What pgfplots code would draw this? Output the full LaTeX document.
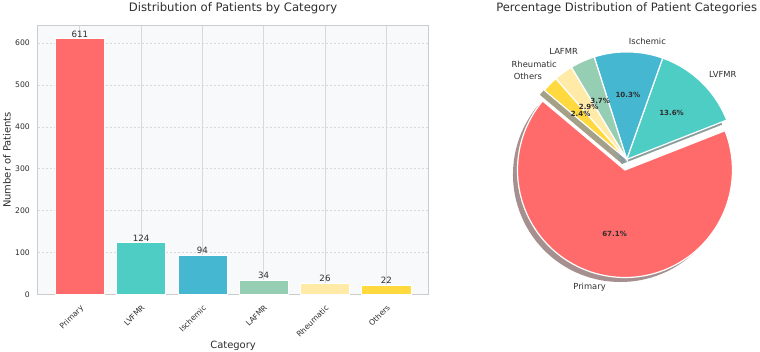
\documentclass[border=0pt]{standalone}
\usepackage{pgfplots}
\pgfplotsset{compat=1.18}
\usepackage{fontspec}
\setmainfont{DejaVu Sans}
\definecolor{cA}{HTML}{FF6B6B}
\definecolor{cB}{HTML}{4ECDC4}
\definecolor{cC}{HTML}{45B7D1}
\definecolor{cD}{HTML}{96CEB4}
\definecolor{cE}{HTML}{FFEAA7}
\definecolor{cF}{HTML}{FFD93D}
\definecolor{bgc}{HTML}{F8F9FA}
\definecolor{framec}{HTML}{CCCCCC}
\definecolor{gridc}{HTML}{D9D9DC}
\definecolor{txt}{HTML}{2E2E2E}
% data
\def\vA{611}\def\vB{124}\def\vC{94}\def\vD{34}\def\vE{26}\def\vF{22}
\pgfmathsetmacro\tot{\vA+\vB+\vC+\vD+\vE+\vF}
\pgfmathsetmacro\aA{140}
\pgfmathsetmacro\aB{\aA+360*(\vA/\tot)}
\pgfmathsetmacro\aC{\aB+360*(\vB/\tot)}
\pgfmathsetmacro\aD{\aC+360*(\vC/\tot)}
\pgfmathsetmacro\aE{\aD+360*(\vD/\tot)}
\pgfmathsetmacro\aF{\aE+360*(\vE/\tot)}
\pgfmathsetmacro\aG{\aF+360*(\vF/\tot)}
\pgfmathsetmacro\mA{(\aA+\aB)/2}
\pgfmathsetmacro\mB{(\aB+\aC)/2}
\pgfmathsetmacro\mC{(\aC+\aD)/2}
\pgfmathsetmacro\mD{(\aD+\aE)/2}
\pgfmathsetmacro\mE{(\aE+\aF)/2}
\pgfmathsetmacro\mF{(\aF+\aG)/2}
\pgfmathsetmacro\exA{0.1*cos(\mA)}
\pgfmathsetmacro\eyA{0.1*sin(\mA)}
\pgfmathsetmacro\pA{100*(\vA/\tot)}
\pgfmathsetmacro\pB{100*(\vB/\tot)}
\pgfmathsetmacro\pC{100*(\vC/\tot)}
\pgfmathsetmacro\pD{100*(\vD/\tot)}
\pgfmathsetmacro\pE{100*(\vE/\tot)}
\pgfmathsetmacro\pF{100*(\vF/\tot)}
\def\sh{0.042}
\newcommand\pct[1]{\pgfmathprintnumber[fixed,fixed zerofill,precision=1,assume math mode=true]{#1}\%}
\begin{document}
\begin{tikzpicture}
\useasboundingbox (0,0) rectangle (760bp,352bp);
\begin{axis}[
  at={(37.5bp,57.7bp)}, anchor=south west, scale only axis,
  width=391.1bp, height=268.6bp,
  xmin=-0.69, xmax=5.69, ymin=0, ymax=641.55,
  xtick={0,1,2,3,4,5},
  xticklabels={Primary,LVFMR,Ischemic,LAFMR,Rheumatic,Others},
  ytick={0,100,200,300,400,500,600},
  major tick length=0pt,
  /pgf/number format/assume math mode=true,
  axis background/.style={fill=bgc},
  axis line style={draw=framec, line width=0.8bp},
  xmajorgrids, ymajorgrids,
  major x grid style={draw=gridc, line width=0.8bp},
  major y grid style={draw=gridc, dash pattern=on 2.5bp off 1.5bp, line width=0.6bp},
  tick label style={font=\fontsize{7.7}{9}\selectfont, text=txt},
  yticklabel style={inner sep=0pt, xshift=-7.5bp},
  xticklabel style={rotate=45, anchor=north east, inner sep=0pt, xshift=-7bp, yshift=-7bp},
  nodes near coords,
  nodes near coords style={font=\fontsize{8.7}{10}\selectfont, text=txt, anchor=south, inner sep=1bp, /pgf/number format/assume math mode=true},
  title={Distribution of Patients by Category},
  every axis title/.style={at={(axis description cs:0.5,1)}, anchor=base, yshift=14bp, font=\fontsize{11.7}{13}\selectfont, text=txt},
  xlabel={Category},
  every axis x label/.style={at={(axis description cs:0.5,0)}, anchor=base, yshift=-53.7bp, font=\fontsize{10}{12}\selectfont, text=txt},
  ylabel={Number of Patients},
  every axis y label/.style={at={(axis description cs:-0.078,0.5)}, rotate=90, anchor=center, font=\fontsize{10}{12}\selectfont, text=txt},
]
\addplot[ybar, bar width=0.8, bar shift=0pt, fill=cA, draw=white, line width=0.6bp] coordinates {(0,611)};
\addplot[ybar, bar width=0.8, bar shift=0pt, fill=cB, draw=white, line width=0.6bp] coordinates {(1,124)};
\addplot[ybar, bar width=0.8, bar shift=0pt, fill=cC, draw=white, line width=0.6bp] coordinates {(2,94)};
\addplot[ybar, bar width=0.8, bar shift=0pt, fill=cD, draw=white, line width=0.6bp] coordinates {(3,34)};
\addplot[ybar, bar width=0.8, bar shift=0pt, fill=cE, draw=white, line width=0.6bp] coordinates {(4,26)};
\addplot[ybar, bar width=0.8, bar shift=0pt, fill=cF, draw=white, line width=0.6bp] coordinates {(5,22)};
\end{axis}
\begin{axis}[
  at={(497.7bp,63.6bp)}, anchor=south west, scale only axis,
  width=258bp, height=258bp,
  xmin=-1.2, xmax=1.2, ymin=-1.2, ymax=1.2,
  hide axis, clip=false,
  title={Percentage Distribution of Patient Categories},
  every axis title/.style={at={(axis description cs:0.5,1)}, anchor=base, yshift=18.7bp, font=\fontsize{11.6}{13}\selectfont, text=txt},
]
% shadows
\addplot[fill=cA!30!black, fill opacity=0.5, draw=none, domain=\aA:\aB, samples=90, variable=\t] ({\exA-\sh+cos(\t)},{\eyA-\sh+sin(\t)}) -- (axis cs:\exA-\sh,\eyA-\sh) -- cycle;
\addplot[fill=cB!30!black, fill opacity=0.5, draw=none, domain=\aB:\aC, samples=30, variable=\t] ({-\sh+cos(\t)},{-\sh+sin(\t)}) -- (axis cs:-\sh,-\sh) -- cycle;
\addplot[fill=cC!30!black, fill opacity=0.5, draw=none, domain=\aC:\aD, samples=30, variable=\t] ({-\sh+cos(\t)},{-\sh+sin(\t)}) -- (axis cs:-\sh,-\sh) -- cycle;
\addplot[fill=cD!30!black, fill opacity=0.5, draw=none, domain=\aD:\aE, samples=15, variable=\t] ({-\sh+cos(\t)},{-\sh+sin(\t)}) -- (axis cs:-\sh,-\sh) -- cycle;
\addplot[fill=cE!30!black, fill opacity=0.5, draw=none, domain=\aE:\aF, samples=15, variable=\t] ({-\sh+cos(\t)},{-\sh+sin(\t)}) -- (axis cs:-\sh,-\sh) -- cycle;
\addplot[fill=cF!30!black, fill opacity=0.5, draw=none, domain=\aF:\aG, samples=15, variable=\t] ({-\sh+cos(\t)},{-\sh+sin(\t)}) -- (axis cs:-\sh,-\sh) -- cycle;
% wedges
\addplot[fill=cA, draw=white, line width=1.2bp, line join=miter, domain=\aA:\aB, samples=90, variable=\t] ({\exA+cos(\t)},{\eyA+sin(\t)}) -- (axis cs:\exA,\eyA) -- cycle;
\addplot[fill=cB, draw=white, line width=1.2bp, line join=miter, domain=\aB:\aC, samples=30, variable=\t] ({cos(\t)},{sin(\t)}) -- (axis cs:0,0) -- cycle;
\addplot[fill=cC, draw=white, line width=1.2bp, line join=miter, domain=\aC:\aD, samples=30, variable=\t] ({cos(\t)},{sin(\t)}) -- (axis cs:0,0) -- cycle;
\addplot[fill=cD, draw=white, line width=1.2bp, line join=miter, domain=\aD:\aE, samples=15, variable=\t] ({cos(\t)},{sin(\t)}) -- (axis cs:0,0) -- cycle;
\addplot[fill=cE, draw=white, line width=1.2bp, line join=miter, domain=\aE:\aF, samples=15, variable=\t] ({cos(\t)},{sin(\t)}) -- (axis cs:0,0) -- cycle;
\addplot[fill=cF, draw=white, line width=1.2bp, line join=miter, domain=\aF:\aG, samples=15, variable=\t] ({cos(\t)},{sin(\t)}) -- (axis cs:0,0) -- cycle;
% labels
\tikzset{lab/.style={font=\fontsize{8.4}{10}\selectfont, text=txt, inner sep=0pt}, pl/.style={font=\fontsize{7.1}{8}\selectfont\bfseries, text=txt, inner sep=0pt, anchor=center}}
\node[lab, anchor=east] at (axis cs:{\exA+1.1*cos(\mA)},{\eyA+1.1*sin(\mA)}) {Primary};
\node[lab, anchor=west] at (axis cs:{1.1*cos(\mB)},{1.1*sin(\mB)}) {LVFMR};
\node[lab, anchor=west] at (axis cs:{1.1*cos(\mC)},{1.1*sin(\mC)}) {Ischemic};
\node[lab, anchor=east] at (axis cs:{1.1*cos(\mD)},{1.1*sin(\mD)}) {LAFMR};
\node[lab, anchor=east] at (axis cs:{1.1*cos(\mE)},{1.1*sin(\mE)}) {Rheumatic};
\node[lab, anchor=east] at (axis cs:{1.1*cos(\mF)},{1.1*sin(\mF)}) {Others};
\node[pl] at (axis cs:{\exA+0.6*cos(\mA)},{\eyA+0.6*sin(\mA)}) {\pct{\pA}};
\node[pl] at (axis cs:{0.6*cos(\mB)},{0.6*sin(\mB)}) {\pct{\pB}};
\node[pl] at (axis cs:{0.6*cos(\mC)},{0.6*sin(\mC)}) {\pct{\pC}};
\node[pl] at (axis cs:{0.6*cos(\mD)},{0.6*sin(\mD)}) {\pct{\pD}};
\node[pl] at (axis cs:{0.6*cos(\mE)},{0.6*sin(\mE)}) {\pct{\pE}};
\node[pl] at (axis cs:{0.6*cos(\mF)},{0.6*sin(\mF)}) {\pct{\pF}};
\end{axis}
\end{tikzpicture}
\end{document}
